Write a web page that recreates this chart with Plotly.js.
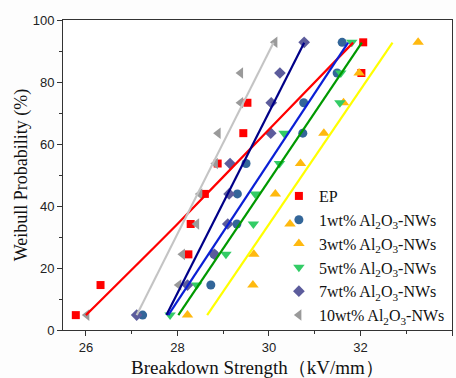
<!DOCTYPE html>
<html>
<head>
<meta charset="utf-8">
<script src="https://cdn.plot.ly/plotly-3.0.1.min.js"></script>
<style>html,body{margin:0;padding:0;background:#fdfdfd;}#chart{width:456px;height:378px;}</style>
</head>
<body>
<div id="chart"></div>
<script>
// Weibull probability (%) for ranks 1..10
const prob = [4.8, 14.5, 24.4, 34.2, 43.9, 53.7, 63.5, 73.3, 82.9, 92.8];

// Breakdown strength (kV/mm) per sample
const ep   = [25.78, 26.32, 28.24, 28.29, 28.60, 28.88, 29.44, 29.53, 32.02, 32.06];
const wt1  = [27.24, 28.73, 28.80, 29.30, 29.31, 29.50, 30.74, 30.76, 31.49, 31.60];
const wt3  = [28.22, 29.65, 29.67, 30.46, 30.14, 30.69, 31.20, 31.63, 31.97, 33.26];
const wt5  = [27.84, 28.42, 29.06, 29.66, 29.70, 30.23, 30.33, 31.55, 31.57, 31.81];
const wt7  = [27.11, 28.22, 28.81, 29.10, 29.13, 29.15, 30.04, 30.05, 30.24, 30.77];
const wt10 = [26.02, 28.03, 28.11, 28.42, 28.49, 28.83, 28.89, 29.38, 29.38, 30.13];

// Fitted lines
const fitEPx   = [26.00, 27.98, 29.99, 31.84];
const fitEPy   = [4.8, 33.9, 64.5, 92.7];
const fit1x    = [27.80, 31.73];
const fit3x    = [28.65, 32.70];
const fit5x    = [28.02, 32.03];
const fit7x    = [27.76, 30.77];
const fit10x   = [27.11, 30.10];
const fitY     = [4.8, 92.7];

const names = ['EP', '1wt% Al<sub>2</sub>O<sub>3</sub>-NWs', '3wt% Al<sub>2</sub>O<sub>3</sub>-NWs',
  '5wt% Al<sub>2</sub>O<sub>3</sub>-NWs', '7wt% Al<sub>2</sub>O<sub>3</sub>-NWs', '10wt% Al<sub>2</sub>O<sub>3</sub>-NWs'];

const series = [ep, wt1, wt3, wt5, wt7, wt10];
const symbols = ['square', 'circle', 'triangle-up', 'triangle-down', 'diamond', 'triangle-left'];
const mcolors = ['#ff0000', '#336699', '#ffb90f', '#33cc66', '#5c5c9c', '#9a9a9a'];
const msizes = [8, 9, 10, 10, 9, 10];

const traces = [];
series.forEach((s, i) => {
  traces.push({x: s, y: prob, type: 'scatter', mode: 'markers', name: names[i],
    marker: {symbol: symbols[i], color: mcolors[i], size: msizes[i], line: {width: 0}}});
});
const fits = [[fitEPx, fitEPy, '#ff0000'], [fit1x, fitY, '#0a1fd6'], [fit3x, fitY, '#ffff00'],
  [fit5x, fitY, '#009900'], [fit7x, fitY, '#000088'], [fit10x, fitY, '#c4c4c4']];
fits.forEach(f => {
  traces.push({x: f[0], y: f[1], type: 'scatter', mode: 'lines', showlegend: false,
    hoverinfo: 'skip', line: {color: f[2], width: 2.2, shape: 'spline', smoothing: 0.6}});
});

const layout = {
  width: 456, height: 378,
  margin: {l: 63, r: 4, t: 20, b: 48},
  paper_bgcolor: '#fdfdfd', plot_bgcolor: '#ffffff',
  showlegend: true,
  legend: {x: 0.555, y: 0.487, xanchor: 'left', yanchor: 'top', bgcolor: 'rgba(0,0,0,0)',
    font: {family: 'Liberation Serif, Times New Roman, serif', size: 16, color: '#111'},
    tracegroupgap: 0, itemwidth: 30},
  xaxis: {
    range: [25.5, 34], tickvals: [26, 28, 30, 32, 34], showgrid: false, zeroline: false,
    showline: true, linecolor: '#333', linewidth: 1, mirror: true,
    ticks: 'outside', ticklen: 5, tickcolor: '#333',
    minor: {ticks: 'outside', ticklen: 3, tickvals: [27, 29, 31, 33], tickcolor: '#333'},
    tickfont: {family: 'Liberation Sans, Arial, sans-serif', size: 13, color: '#222'},
    title: {text: 'Breakdown Strength（kV/mm）', standoff: 8,
      font: {family: 'Liberation Serif, Times New Roman, serif', size: 19, color: '#111'}}
  },
  yaxis: {
    range: [0, 100], tickvals: [0, 20, 40, 60, 80, 100], showgrid: false, zeroline: false,
    showline: true, linecolor: '#333', linewidth: 1, mirror: true,
    ticks: 'outside', ticklen: 5, tickcolor: '#333',
    minor: {ticks: 'outside', ticklen: 3, tickvals: [10, 30, 50, 70, 90], tickcolor: '#333'},
    tickfont: {family: 'Liberation Sans, Arial, sans-serif', size: 13, color: '#222'},
    title: {text: 'Weibull Probability (%)', standoff: 0,
      font: {family: 'Liberation Serif, Times New Roman, serif', size: 18, color: '#111'}}
  }
};

Plotly.newPlot('chart', traces, layout, {displayModeBar: false, staticPlot: true});
</script>
</body>
</html>
